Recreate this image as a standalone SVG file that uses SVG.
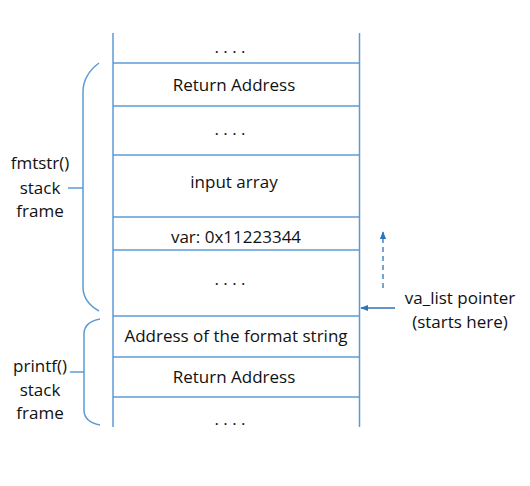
<svg xmlns="http://www.w3.org/2000/svg" width="530" height="486" viewBox="0 0 530 486">
<style>
.ln{stroke:#5B9BD5;stroke-width:1.5;fill:none}
.br{stroke:#5B9BD5;stroke-width:1.5;fill:none}
.t{font-family:"Open Sans","Noto Sans",sans-serif;font-size:17px;fill:#111;text-anchor:middle}
.ar{stroke:#2E75B6;stroke-width:1.3;fill:none}
</style>
<defs>
<marker id="ah" viewBox="0 0 10 10" refX="9" refY="5" markerWidth="6" markerHeight="6" orient="auto">
<path d="M0,1 L10,5 L0,9 Z" fill="#2E75B6"/>
</marker>
</defs>
<rect width="530" height="486" fill="#fff"/>
<g id="stack">
<line class="ln" x1="113" y1="33" x2="113" y2="427"/>
<line class="ln" x1="359.5" y1="33" x2="359.5" y2="427"/>
<line class="ln" x1="113" y1="63" x2="359.5" y2="63"/>
<line class="ln" x1="113" y1="106" x2="359.5" y2="106"/>
<line class="ln" x1="113" y1="155" x2="359.5" y2="155"/>
<line class="ln" x1="113" y1="217" x2="359.5" y2="217"/>
<line class="ln" x1="113" y1="250" x2="359.5" y2="250"/>
<line class="ln" x1="113" y1="316" x2="359.5" y2="316"/>
<line class="ln" x1="113" y1="357" x2="359.5" y2="357"/>
<line class="ln" x1="113" y1="397" x2="359.5" y2="397"/>
</g>
<g id="cells">
<text class="t" x="230" y="53">. . . .</text>
<text class="t" x="234" y="91">Return Address</text>
<text class="t" x="230" y="135">. . . .</text>
<text class="t" x="234" y="188">input array</text>
<text class="t" x="236" y="243">var: 0x11223344</text>
<text class="t" x="230" y="285">. . . .</text>
<text class="t" x="236" y="342">Address of the format string</text>
<text class="t" x="234" y="383">Return Address</text>
<text class="t" x="230" y="425">. . . .</text>
</g>
<g id="fmtstr-frame">
<path class="br" d="M99,63 Q83,75 83,92 L83,287 Q83,302 99,311"/>
<line class="br" x1="68" y1="188" x2="83" y2="188"/>
<text class="t" x="40" y="169">fmtstr()</text>
<text class="t" x="40" y="194">stack</text>
<text class="t" x="40" y="217">frame</text>
</g>
<g id="printf-frame">
<path class="br" d="M100,319 Q84,322 84,334 L84,410 Q84,422 100,425"/>
<line class="br" x1="70" y1="372" x2="84" y2="372"/>
<text class="t" x="40" y="372">printf()</text>
<text class="t" x="40" y="396">stack</text>
<text class="t" x="40" y="419">frame</text>
</g>
<g id="connectors">
<line class="ar" x1="383" y1="288" x2="383" y2="232" stroke-dasharray="5,4" marker-end="url(#ah)"/>
<line class="ar" x1="395" y1="308" x2="361" y2="308" marker-end="url(#ah)"/>
</g>
<g id="va-label">
<text class="t" x="460" y="304">va_list pointer</text>
<text class="t" x="460" y="328">(starts here)</text>
</g>
</svg>
